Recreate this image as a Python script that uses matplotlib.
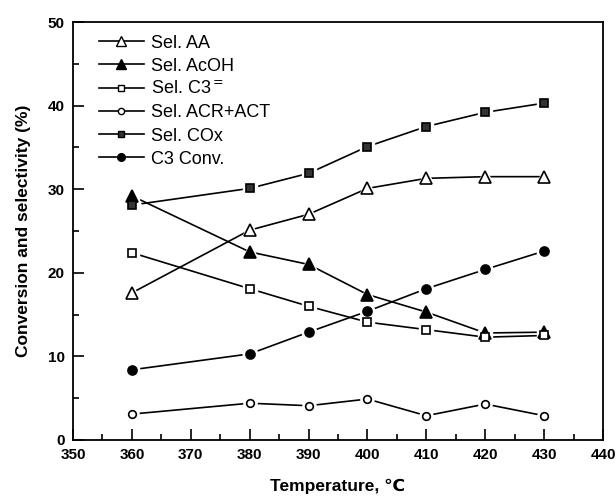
import numpy as np
import matplotlib
matplotlib.use("Agg")
import matplotlib.pyplot as plt
from matplotlib.ticker import MultipleLocator

plt.rcParams['font.family'] = ['Liberation Sans', 'DejaVu Sans']

temps = [360, 380, 390, 400, 410, 420, 430]
sel_aa = [17.6, 25.1, 27.0, 30.1, 31.3, 31.5, 31.5]
sel_acoh = [29.2, 22.5, 21.0, 17.4, 15.3, 12.8, 12.9]
sel_c3 = [22.4, 18.1, 16.0, 14.1, 13.2, 12.3, 12.5]
sel_acr = [3.1, 4.4, 4.1, 4.9, 2.9, 4.3, 2.9]
sel_cox = [28.1, 30.1, 31.9, 35.1, 37.5, 39.2, 40.3]
c3_conv = [8.4, 10.3, 12.9, 15.4, 18.1, 20.4, 22.6]

series = [
    ("Sel. AA", sel_aa, dict(marker='^', ms=8.5, mfc='white')),
    ("Sel. AcOH", sel_acoh, dict(marker='^', ms=8.5, mfc='black')),
    ("Sel. C3$^{=}$", sel_c3, dict(marker='s', ms=6, mfc='white')),
    ("Sel. ACR+ACT", sel_acr, dict(marker='o', ms=5.5, mfc='white')),
    ("Sel. COx", sel_cox, dict(marker='s', ms=6, mfc='0.2')),
    ("C3 Conv.", c3_conv, dict(marker='o', ms=6.5, mfc='black')),
]

fig = plt.figure(figsize=(6.16, 4.97), dpi=100)
ax = fig.add_axes([0.1185, 0.1147, 0.8605, 0.841])

for label, vals, st in series:
    # lines, then white halos so lines stop short of the markers, then markers
    ax.plot(temps, vals, color='black', lw=1.2, zorder=2)
    ax.plot(temps, vals, ls='none', marker=st['marker'], ms=st['ms'] + 4,
            mfc='white', mec='white', zorder=3)
    ax.plot(temps, vals, ls='none', marker=st['marker'], ms=st['ms'],
            mfc=st['mfc'], mec='black', mew=1.2, zorder=4)
    ax.plot([], [], color='black', lw=1.2, marker=st['marker'], ms=st['ms'] - 1,
            mfc=st['mfc'], mec='black', mew=1.0, label=label)

ax.set_xlim(350, 440)
ax.set_ylim(0, 50)
ax.xaxis.set_major_locator(MultipleLocator(10))
ax.xaxis.set_minor_locator(MultipleLocator(5))
ax.yaxis.set_major_locator(MultipleLocator(10))
ax.yaxis.set_minor_locator(MultipleLocator(5))
ax.tick_params(which='both', direction='in', top=False, right=False,
               width=1.2, labelsize=11)
ax.tick_params(which='major', length=8)
ax.tick_params(which='minor', length=4)
ax.tick_params(axis='x', pad=6)
ax.tick_params(axis='y', pad=6)
for lab in ax.get_xticklabels() + ax.get_yticklabels():
    lab.set_fontweight('bold')
for sp in ax.spines.values():
    sp.set_linewidth(1.3)

ax.set_xlabel("Temperature, \u2103", fontsize=12.5, fontweight='bold', labelpad=12)
ax.set_ylabel("Conversion and selectivity (%)", fontsize=12.5, fontweight='bold', labelpad=12)

ax.legend(loc='upper left', frameon=False, fontsize=13, handlelength=2.5,
          handletextpad=0.4, labelspacing=0.34, borderaxespad=0.3,
          bbox_to_anchor=(0.025, 1.0))

fig.savefig("out.png", dpi=100)
